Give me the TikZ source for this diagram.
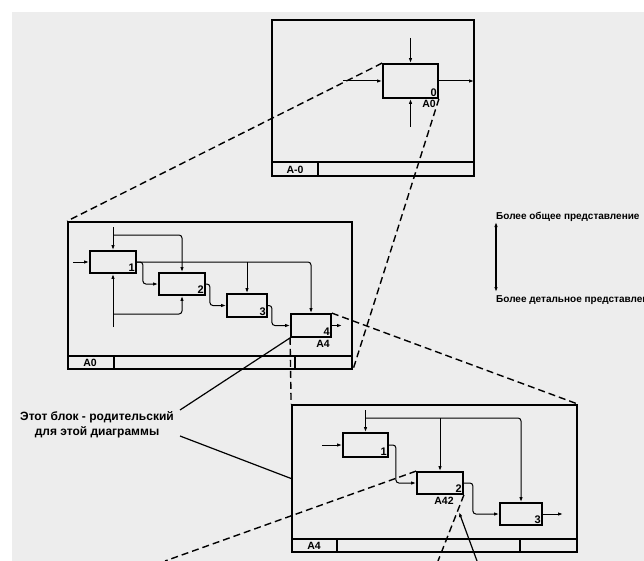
\documentclass[tikz,border=0pt]{standalone}
\usepackage{fontspec}
\setmainfont{Liberation Sans}
\usetikzlibrary{arrows.meta}
\begin{document}
\begin{tikzpicture}[x=1pt, y=-1pt,
  blk/.style={draw, line width=1.8pt, inner sep=0pt},
  frm/.style={draw, line width=1.8pt, inner sep=0pt},
  arr/.style={line width=1pt, -{Latex[length=5pt,width=3.5pt]}},
  lnk/.style={line width=1.4pt, dash pattern=on 7pt off 4pt},
  num/.style={anchor=south east, inner sep=2pt, font=\fontsize{11}{12}\selectfont\bfseries},
  lab/.style={inner sep=1pt, font=\fontsize{10.5}{11}\selectfont\bfseries},
  txt/.style={inner sep=0pt, font=\fontsize{10}{15}\selectfont\bfseries}]
\useasboundingbox (0,0) rectangle (644,561);
\fill[white] (0,0) rectangle (644,561);
\fill[black!7] (12,12) rectangle (644,561);
\node[frm, minimum width=202, minimum height=156] (frTop) at (373,98){};
\node[frm, minimum width=284, minimum height=147] (frMid) at (210,295.5){};
\node[frm, minimum width=285, minimum height=147] (frBot) at (434.5,478.5){};
\draw[line width=1.5pt] (272,162) -- (474,162) (318,162) -- (318,176);
\draw[line width=1.5pt] (68,356) -- (352,356) (114,356) -- (114,369) (295,356) -- (295,369);
\draw[line width=1.5pt] (292,539) -- (577,539) (337,539) -- (337,552) (520,539) -- (520,552);
\node[lab] (tA-0) at (295,169.5){A-0};
\node[lab] (tA0) at (90,363){A0};
\node[lab] (tA4) at (314,546){A4};
\node[blk, minimum width=55, minimum height=34] (top0) at (410.5,81){};
\node[num] (n0) at (top0.south east){0};
\node[lab, anchor=north east] (l0) at (437,99){A0};
\coordinate (ci0) at (343,81);
\coordinate (cc0) at (410.5,38);
\coordinate (cm0) at (410.5,127);
\coordinate (co0) at (474,81);
\draw[arr] (ci0) -- (top0);
\draw[arr] (cc0) -- (top0);
\draw[arr] (cm0) -- (top0);
\draw[arr] (top0) -- (co0);
\node[blk, minimum width=46, minimum height=22] (mid1) at (113,262){};
\node[blk, minimum width=46, minimum height=22] (mid2) at (182,284){};
\node[blk, minimum width=40, minimum height=23] (mid3) at (247,305.5){};
\node[blk, minimum width=40, minimum height=23] (mid4) at (311,325.5){};
\node[num] (n1) at (mid1.south east){1};
\node[num] (n2) at (mid2.south east){2};
\node[num] (n3) at (mid3.south east){3};
\node[num] (n4) at (mid4.south east){4};
\node[lab, anchor=north east] (l4) at (331,339){A4};
\coordinate (ci1) at (73,262);
\coordinate (cc1) at (113,227);
\coordinate (cc1b) at (113,235);
\coordinate (cm1) at (113,327);
\coordinate (cm1b) at (113,314);
\coordinate (co4) at (342,325.5);
\draw[arr] (ci1) -- (mid1);
\draw[arr] (cc1) -- (mid1);
\draw[arr] (cm1) -- (mid1);
\draw[arr, rounded corners=3pt] (cc1b) -| (mid2);
\draw[arr, rounded corners=3pt] (cm1b) -| (mid2);
\draw[arr, rounded corners=3pt] (mid1) -| (mid4);
\draw[arr] (mid3.north |- mid1.east) -- (mid3);
\draw[arr, rounded corners=3pt] (mid1.east) -- ++(6,0) |- (mid2);
\draw[arr, rounded corners=3pt] (mid2.east) -- ++(4,0) |- (mid3);
\draw[arr, rounded corners=3pt] (mid3.east) -- ++(4,0) |- (mid4);
\draw[arr] (mid4) -- (co4);
\node[blk, minimum width=45, minimum height=24] (bot1) at (365.5,445){};
\node[blk, minimum width=46, minimum height=22] (bot2) at (440,483){};
\node[blk, minimum width=42, minimum height=22] (bot3) at (521,514){};
\node[num] (n21) at (bot1.south east){1};
\node[num] (n22) at (bot2.south east){2};
\node[num] (n23) at (bot3.south east){3};
\node[lab, anchor=north] (l42) at (444,496){A42};
\coordinate (ci2) at (322,445);
\coordinate (cc2) at (365.5,410);
\coordinate (cc2b) at (365.5,418);
\coordinate (co3) at (563,514);
\draw[arr] (ci2) -- (bot1);
\draw[arr] (cc2) -- (bot1);
\draw[arr, rounded corners=3pt] (cc2b) -| (bot3);
\draw[arr] (bot2.north |- cc2b) -- (bot2);
\draw[arr, rounded corners=3pt] (bot1.east) -- ++(7,0) |- (bot2);
\draw[arr, rounded corners=3pt] (bot2.east) -- ++(9,0) |- (bot3);
\draw[arr] (bot3) -- (co3);
\coordinate (e1) at (165,561);
\coordinate (e2) at (438,561);
\draw[lnk] (top0.north west) -- (frMid.north west);
\draw[lnk] (top0.south east) -- (frMid.south east);
\draw[lnk] (mid4.north east) -- (frBot.north east);
\draw[lnk] (mid4.south west) -- (frBot.north west);
\draw[lnk] (bot2.north west) -- (e1);
\draw[lnk] (bot2.south east) -- (e2);
\node[txt, align=center, font=\fontsize{12}{15}\selectfont\bfseries] (note) at (97,424.5){Этот блок - родительский\\для этой диаграммы};
\coordinate (k1) at (180,410);
\coordinate (k2) at (180,436);
\draw[line width=1.2pt] (k1) -- (mid4.south west);
\draw[line width=1.2pt] (k2) -- (frBot.west);
\coordinate (k3) at (477,561);
\coordinate (k4) at (459,512);
\draw[line width=1.2pt, -{Latex[length=5pt,width=3.5pt]}] (k3) -- (k4);
\node[txt, anchor=west] (gen) at (496,217){Более общее представление};
\node[txt, anchor=west] (det) at (496,300){Более детальное представление};
\coordinate (u1) at (496,222);
\coordinate (u2) at (496,292);
\draw[line width=1.2pt, {Latex[length=5pt,width=3.5pt]}-{Latex[length=5pt,width=3.5pt]}] (u1) -- (u2);
\end{tikzpicture}
\end{document}
